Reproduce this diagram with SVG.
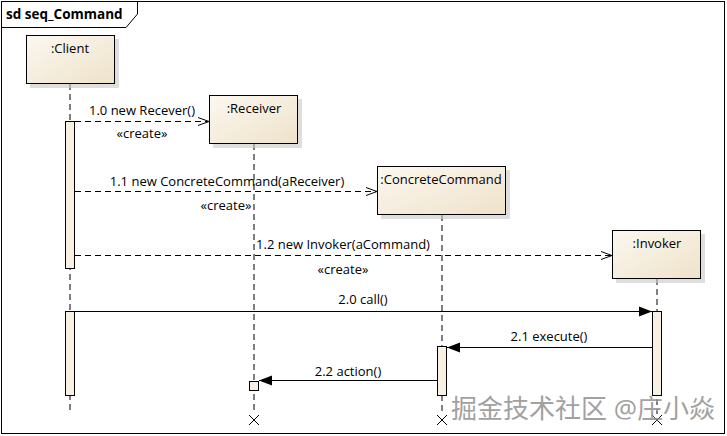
<svg xmlns="http://www.w3.org/2000/svg" width="727" height="436" viewBox="0 0 727 436">
<style>
text{font-family:"Open Sans","Liberation Sans","Noto Sans CJK SC",sans-serif;font-size:13px;fill:#000}
.lbl{text-anchor:middle}
.obj{stroke:#000;stroke-width:1;fill:url(#g)}
.sh{fill:#c8c8c8;opacity:.6}
.life{stroke:#000;stroke-width:1;stroke-dasharray:6,4;fill:none}
.dmsg{stroke:#000;stroke-width:1;stroke-dasharray:6,4;fill:none}
.msg{stroke:#000;stroke-width:1;fill:none}
.act{fill:#f8f0e2;stroke:#000;stroke-width:1}
.x{stroke:#000;stroke-width:1}
</style>
<defs>
<linearGradient id="g" x1="0" y1="0" x2="1" y2="1">
<stop offset="0" stop-color="#fcf8f0"/>
<stop offset="1" stop-color="#eee2ca"/>
</linearGradient>
<marker id="open" markerWidth="12" markerHeight="10" refX="11" refY="5" orient="auto" markerUnits="userSpaceOnUse">
<path d="M0,1 L11,5 L0,9" fill="none" stroke="#000" stroke-width="1"/>
</marker>
<marker id="fill" markerWidth="14" markerHeight="12" refX="13" refY="6" orient="auto" markerUnits="userSpaceOnUse">
<path d="M0,1 L13,6 L0,11 Z" fill="#000"/>
</marker>
</defs>
<rect width="727" height="436" fill="#fff"/>
<g id="frame">
<rect x="1.5" y="1.5" width="723" height="432" fill="none" stroke="#000"/>
<path d="M1.5,27.5 H126 L137.5,14 V1.5" fill="none" stroke="#000"/>
<text x="6" y="19" style="font-weight:bold;font-size:13.5px">sd seq_Command</text>
</g>
<g id="lifelines">
<line class="life" x1="70" y1="84" x2="70" y2="410"/>
<line class="life" x1="254" y1="144" x2="254" y2="414"/>
<line class="life" x1="442" y1="215" x2="442" y2="414"/>
<line class="life" x1="657" y1="279" x2="657" y2="414"/>
</g>
<g id="client">
<rect class="sh" x="30" y="39" width="89" height="49"/>
<rect class="obj" x="26.5" y="35.5" width="88" height="48"/>
<text class="lbl" x="70" y="53">:Client</text>
</g>
<g id="receiver">
<rect class="sh" x="213" y="99" width="89" height="49"/>
<rect class="obj" x="209.5" y="95.5" width="88" height="48"/>
<text class="lbl" x="254" y="113">:Receiver</text>
</g>
<g id="concreteCommand">
<rect class="sh" x="381" y="170" width="129" height="49"/>
<rect class="obj" x="377.5" y="166.5" width="128" height="48"/>
<text class="lbl" x="441" y="184">:ConcreteCommand</text>
</g>
<g id="invoker">
<rect class="sh" x="616" y="234" width="89" height="49"/>
<rect class="obj" x="612.5" y="230.5" width="88" height="48"/>
<text class="lbl" x="657" y="248">:Invoker</text>
</g>
<g id="activations">
<rect class="act" x="65.5" y="121.5" width="9" height="147"/>
<rect class="act" x="65.5" y="311.5" width="9" height="84"/>
<rect class="act" x="652.5" y="311.5" width="9" height="84"/>
<rect class="act" x="437.5" y="346.5" width="9" height="49"/>
<rect class="act" x="249.5" y="381.5" width="9" height="9"/>
</g>
<g id="destroy">
<path class="x" d="M249,415 L259,425 M259,415 L249,425"/>
<path class="x" d="M437,415 L447,425 M447,415 L437,425"/>
<path class="x" d="M652,415 L662,425 M662,415 L652,425"/>
</g>
<g id="connectors">
<line class="dmsg" x1="75" y1="121.5" x2="209" y2="121.5" marker-end="url(#open)"/>
<line class="dmsg" x1="75" y1="191.5" x2="377" y2="191.5" marker-end="url(#open)"/>
<line class="dmsg" x1="75" y1="255.5" x2="612" y2="255.5" marker-end="url(#open)"/>
<line class="msg" x1="75" y1="311.5" x2="652" y2="311.5" marker-end="url(#fill)"/>
<line class="msg" x1="652" y1="347.5" x2="447" y2="347.5" marker-end="url(#fill)"/>
<line class="msg" x1="437" y1="380.5" x2="259" y2="380.5" marker-end="url(#fill)"/>
</g>
<g id="labels">
<text class="lbl" x="142" y="115">1.0 new Recever()</text>
<text class="lbl" x="142" y="138">«create»</text>
<text class="lbl" x="227" y="186">1.1 new ConcreteCommand(aReceiver)</text>
<text class="lbl" x="226" y="210">«create»</text>
<text class="lbl" x="343" y="249">1.2 new Invoker(aCommand)</text>
<text class="lbl" x="343" y="274">«create»</text>
<text class="lbl" x="363" y="304">2.0 call()</text>
<text class="lbl" x="549" y="341">2.1 execute()</text>
<text class="lbl" x="348" y="376">2.2 action()</text>
</g>
<g id="watermark" opacity="0.8">
<text x="451" y="418" style="font-size:26px;fill:#8a8a8a;stroke:#fff;stroke-width:0.6;paint-order:stroke">掘金技术社区 @庄小焱</text>
</g>
</svg>
